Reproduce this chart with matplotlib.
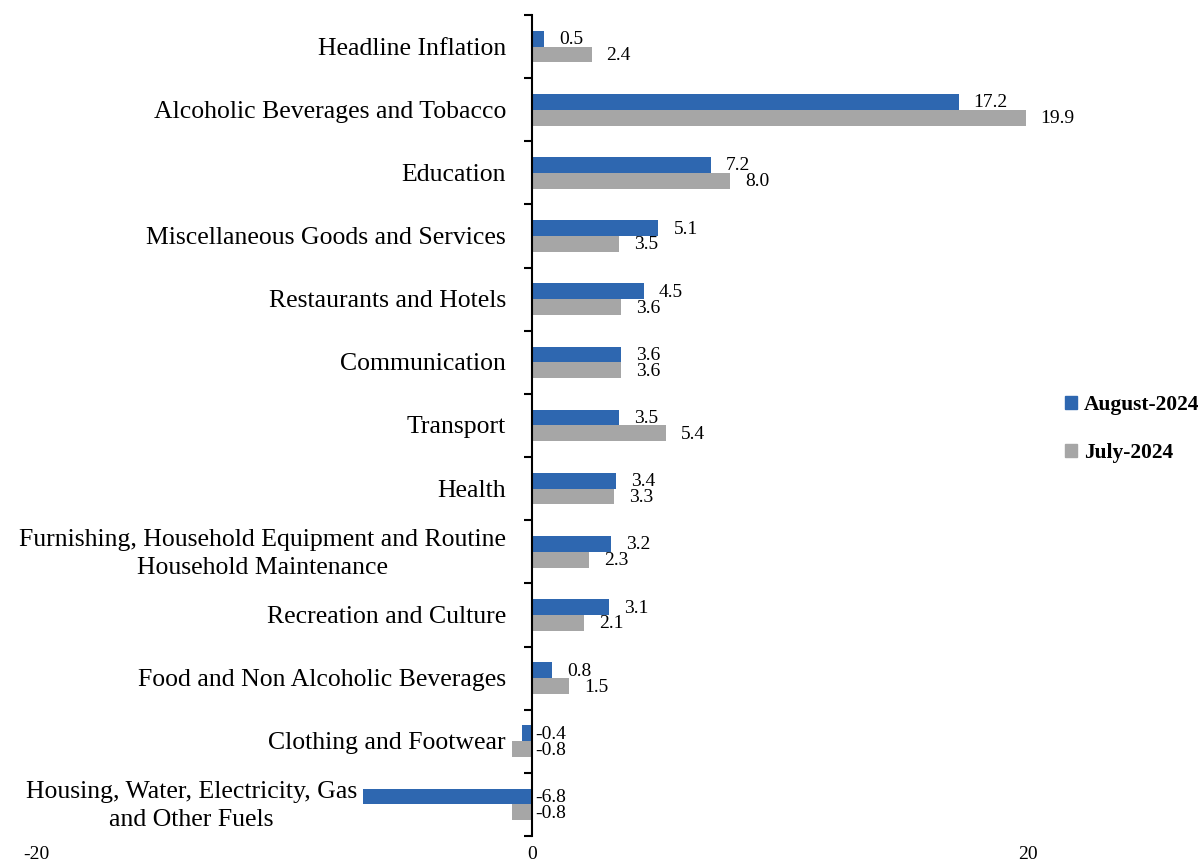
import numpy as np
import matplotlib.pyplot as plt
from matplotlib.patches import Patch

# ---- data ----
categories = [
    "Headline Inflation",
    "Alcoholic Beverages and Tobacco",
    "Education",
    "Miscellaneous Goods and Services",
    "Restaurants and Hotels",
    "Communication",
    "Transport",
    "Health",
    "Furnishing, Household Equipment and Routine\nHousehold Maintenance",
    "Recreation and Culture",
    "Food and Non Alcoholic Beverages",
    "Clothing and Footwear",
    "Housing, Water, Electricity, Gas\nand Other Fuels",
]
aug_2024 = [0.5, 17.2, 7.2, 5.1, 4.5, 3.6, 3.5, 3.4, 3.2, 3.1, 0.8, -0.4, -6.8]
jul_2024 = [2.4, 19.9, 8.0, 3.5, 3.6, 3.6, 5.4, 3.3, 2.3, 2.1, 1.5, -0.8, -0.8]
xticks = [-20, 0, 20]

blue = "#2E67B0"
grey = "#A6A6A6"
plt.rcParams["font.family"] = ["Liberation Serif", "DejaVu Serif"]

fig = plt.figure(figsize=(12.03, 8.67), dpi=100)
ax = fig.add_axes([36 / 1203, 1 - 836 / 867, 47 * 24.8 / 1203, 821 / 867])

n = len(categories)
y = np.arange(n)[::-1].astype(float)  # first category on top
h = 0.25
ax.barh(y + h / 2, aug_2024, height=h, color=blue, label="August-2024")
ax.barh(y - h / 2, jul_2024, height=h, color=grey, label="July-2024")

ax.set_xlim(-20, 27)
ax.set_ylim(-0.5, n - 0.5)

# value labels
for vals, off in [(aug_2024, h / 2), (jul_2024, -h / 2)]:
    for yi, v in zip(y, vals):
        if v >= 0:
            ax.annotate(f"{v:.1f}", (v, yi + off), xytext=(15, -1), textcoords="offset pixels",
                        ha="left", va="center", fontsize=14)
        else:
            ax.annotate(f"{v:.1f}", (0, yi + off), xytext=(3, -1), textcoords="offset pixels",
                        ha="left", va="center", fontsize=14)

# category labels: next to the axis, or left of a long negative bar
for yi, cat, a, b in zip(y, categories, aug_2024, jul_2024):
    lo = min(a, b)
    if lo < -2:
        x0, dx = lo, -6
    else:
        x0, dx = 0, -26
    ax.annotate(cat, (x0, yi), xytext=(dx, -2), textcoords="offset pixels",
                ha="right", va="center", multialignment="center",
                fontsize=18.5, linespacing=1.35)

# axes styling
for s in ["top", "right", "bottom"]:
    ax.spines[s].set_visible(False)
ax.spines["left"].set_position(("data", 0))
ax.spines["left"].set_linewidth(1.5)

ax.set_yticks(np.arange(n + 1) - 0.5)
ax.set_yticklabels([])
ax.tick_params(axis="y", which="major", length=6, width=1.5, direction="out")

ax.set_xticks(xticks)
ax.set_xticklabels([str(t) for t in xticks], fontsize=14)
ax.tick_params(axis="x", length=0, pad=7)

handles = [Patch(color=blue, label="August-2024"), Patch(color=grey, label="July-2024")]
fig.legend(handles=handles, loc="center left", bbox_to_anchor=(1046 / 1203, 1 - 429 / 867),
           frameon=False, prop={"weight": "bold", "size": 15.5},
           handlelength=0.55, handleheight=0.55, handletextpad=0.3, labelspacing=1.3)

fig.savefig("out.png", dpi=100)
